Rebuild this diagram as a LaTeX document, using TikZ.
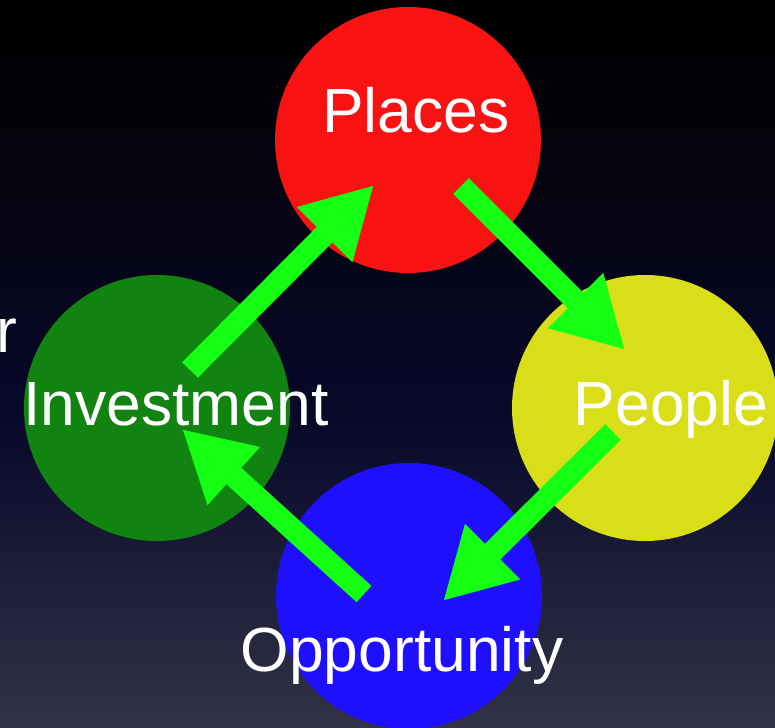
\documentclass[tikz,border=0pt]{standalone}
\usepackage{fontspec}
\setmainfont{Liberation Sans}
\usetikzlibrary{arrows.meta}
\definecolor{bgtop}{RGB}{3,3,12}
\definecolor{bgmid}{RGB}{8,8,42}
\definecolor{bglow}{RGB}{34,35,76}
\definecolor{bgbot}{RGB}{50,51,70}
\definecolor{placesred}{RGB}{249,18,18}
\definecolor{investgreen}{RGB}{17,131,17}
\definecolor{peopleyellow}{RGB}{218,222,24}
\definecolor{oppblue}{RGB}{30,15,255}
\definecolor{arrowgreen}{RGB}{20,255,20}
\tikzset{%
  disc/.style={
    circle,
    draw=none,
    inner sep=0pt,
    minimum size=53.2mm
  },
  word/.style={
    text=white,
    inner sep=0pt,
    anchor=base,
    font=\fontsize{35.5pt}{40pt}\selectfont
  },
  flow/.style={
    draw=arrowgreen,
    line width=4.4mm,
    -{Triangle[width=14.6mm,length=14mm]}
  },
}

\begin{document}
\begin{tikzpicture}[x=0.2mm,y=-0.2mm]
        % background
        \shade[top color=black,bottom color=bgtop] (0,0) rectangle (775,150);
        \shade[top color=bgtop,bottom color=bgmid] (0,150) rectangle (775,420);
        \shade[top color=bgmid,middle color=bglow,bottom color=bgbot] (0,420) rectangle (775,727);
        \useasboundingbox (0,0) rectangle (775,727);

        \node[disc,fill=placesred] (places) at (408,140) {};
        \node[disc,fill=investgreen] (invest) at (157,408) {};
        \node[disc,fill=peopleyellow] (people) at (645,408) {};
        \node[disc,fill=oppblue] (opp) at (409,596) {};

        \coordinate (investout) at (190,370);
        \coordinate (placesin) at (374,185);
        \coordinate (placesout) at (461,186);
        \coordinate (peoplein) at (625,350);
        \coordinate (peopleout) at (613,432);
        \coordinate (oppin) at (443,601);
        \coordinate (oppout) at (364,594);
        \coordinate (investin) at (182,429);

        \draw[flow] (investout) -- (placesin);
        \draw[flow] (placesout) -- (peoplein);
        \draw[flow] (peopleout) -- (oppin);
        \draw[flow] (oppout) -- (investin);

        \node[word] (placestext) at (416,132) {Places};
        \node[word] (investtext) at (176,425) {Investment};
        \node[word] (peopletext) at (671,425) {People};
        \node[word] (opptext) at (402,671) {Opportunity};
        \node[word,anchor=base west] (cuttext) at (-4,352) {r};
\end{tikzpicture}
\end{document}
